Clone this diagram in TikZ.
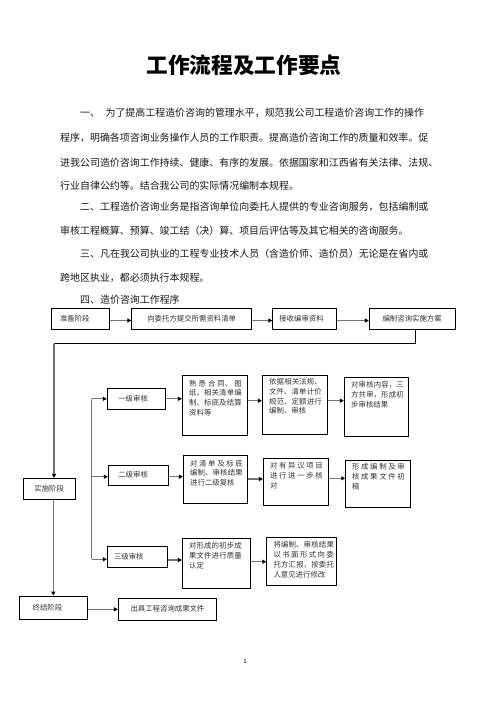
\documentclass[tikz,border=0pt]{standalone}
\usepackage{fontspec}
\setmainfont{Noto Sans CJK SC}
\usetikzlibrary{arrows.meta}
\XeTeXlinebreaklocale "zh"
\XeTeXlinebreakskip=0pt plus 3pt
\begin{document}
\begin{tikzpicture}[x=1pt,y=-1pt,
  box/.style={draw=black, line width=0.8pt, inner sep=0pt, rectangle},
  arr/.style={draw=black!55, line width=1.3pt, -{Triangle[length=4pt,width=4pt,color=black]}},
  gline/.style={draw=black!55, line width=1.3pt},
  bline/.style={draw=black, line width=0.8pt},
  para/.style={anchor=west, inner sep=0pt, font=\fontsize{9.95}{12}\selectfont, text=black!90},
  btxt/.style={font=\fontsize{7.4}{9.8}\selectfont, text=black!80},
  mtxt/.style={btxt, anchor=base west, inner sep=0pt, align=justify, text width=52.5pt}]
\useasboundingbox (0,0) rectangle (496,702);
\fill[white] (0,0) rectangle (496,702);

% title
\node[inner sep=0pt, font=\fontsize{21.7}{24}\selectfont\bfseries] (title) at (244,65) {工作流程及工作要点};

% paragraphs
\node[para] (l1) at (80,113.3) {一、\hspace{5.5pt}为了提高工程造价咨询的管理水平，规范我公司工程造价咨询工作的操作};
\node[para] (l2) at (60,138) {程序，明确各项咨询业务操作人员的工作职责。提高造价咨询工作的质量和效率。促};
\node[para] (l3) at (60,162.5) {进我公司造价咨询工作持续、健康、有序的发展。依据国家和江西省有关法律、法规、};
\node[para] (l4) at (60,186) {行业自律公约等。结合我公司的实际情况编制本规程。};
\node[para] (l5) at (80,207) {二、工程造价咨询业务是指咨询单位向委托人提供的专业咨询服务，包括编制或};
\node[para] (l6) at (60,231) {审核工程概算、预算、竣工结（决）算、项目后评估等及其它相关的咨询服务。};
\node[para] (l7) at (80,254) {三、凡在我公司执业的工程专业技术人员（含造价师、造价员）无论是在省内或};
\node[para] (l8) at (60,278.3) {跨地区执业，都必须执行本规程。};
\node[para] (l9) at (80,300) {四、造价咨询工作程序};

% top row
\node[box, btxt, minimum width=58.3pt, minimum height=21pt, inner xsep=9pt, text width=40.3pt, align=left] (zb) at (80.15,318.8) {准备阶段};
\node[box, btxt, minimum width=120pt, minimum height=21pt] (wt) at (191.7,318.8) {向委托方提交所需资料清单};
\node[box, btxt, minimum width=64pt, minimum height=21pt, inner xsep=6.6pt, text width=50.8pt, align=left] (js) at (304.7,318.8) {接收编审资料};
\node[box, btxt, minimum width=85.7pt, minimum height=21pt] (bz) at (412.15,318.8) {编制咨询实施方案};

% stages
\node[box, btxt, minimum width=51.7pt, minimum height=21pt] (ss) at (49.15,488.8) {实施阶段};
\node[box, btxt, minimum width=68pt, minimum height=23.3pt, inner xsep=13.4pt, text width=41.2pt, align=left] (zj) at (53.3,607.65) {终结阶段};
\node[box, btxt, minimum width=98.4pt, minimum height=21.7pt] (cj) at (167.5,609.15) {出具工程咨询成果文件};

% review levels
\node[box, btxt, minimum width=58.4pt, minimum height=21pt, inner xsep=11pt, text width=36.4pt, align=left] (yj) at (136.5,398.8) {一级审核};
\node[box, btxt, minimum width=60pt, minimum height=20pt, inner xsep=10pt, text width=40pt, align=left] (ej) at (138.3,475) {二级审核};
\node[box, btxt, minimum width=60pt, minimum height=20.6pt, inner xsep=6.7pt, text width=46.6pt, align=left] (sj) at (137.3,557) {三级审核};

% row boxes
\node[box, minimum width=65.4pt, minimum height=59.8pt] (p1) at (215,405.6) {};
\node[box, minimum width=65pt, minimum height=58.3pt] (p2) at (294.8,404.85) {};
\node[box, minimum width=64.4pt, minimum height=58.7pt] (p3) at (376.5,406.65) {};
\node[box, minimum width=64.4pt, minimum height=47.6pt] (q1) at (215.5,479.5) {};
\node[box, minimum width=65pt, minimum height=46.7pt] (q2) at (295.8,481.65) {};
\node[box, minimum width=65pt, minimum height=47.3pt] (q3) at (378.2,483.65) {};
\node[box, minimum width=68.4pt, minimum height=50pt] (s1) at (216.5,563.3) {};
\node[box, minimum width=70pt, minimum height=47.7pt] (s2) at (301.7,561.15) {};

% row texts
\node[mtxt] (tp1) at (189,386.1) {熟悉合同、图\linebreak 纸、相关清单编\linebreak 制、标底及结算\linebreak 资料等};
\node[mtxt] (tp2) at (269,384.5) {依据相关法规、\linebreak 文件、清单计价\linebreak 规范、定额进行\linebreak 编制、审核};
\node[mtxt] (tp3) at (351,387.8) {对审核内容，三\linebreak 方共审，形成初\linebreak 步审核结果};
\node[mtxt] (tq1) at (190,466.1) {对清单及标底\linebreak 编制、审核结果\linebreak 进行二级复核};
\node[mtxt] (tq2) at (270,468.8) {对有异议项目\linebreak 进行进一步核\linebreak 对};
\node[mtxt] (tq3) at (352,469.5) {形成编制及审\linebreak 核成果文件初\linebreak 稿};
\node[mtxt] (ts1) at (189,548.8) {对形成的初步成\linebreak 果文件进行质量\linebreak 认定};
\node[mtxt, text width=60.5pt] (ts2) at (273.3,547.8) {将编制、审核结果\linebreak 以书面形式向委\linebreak 托方汇报，按委托\linebreak 人意见进行修改};

% page number
\node[inner sep=0pt, font=\fontsize{6}{7}\selectfont] (pg) at (245,661) {1};

% helper coordinates
\coordinate (r0) at (0,320.5);
\coordinate (r1) at (0,400.7);
\coordinate (r2) at (0,479);
\coordinate (r2b) at (0,478.3);
\coordinate (r2a) at (0,476.7);
\coordinate (r3) at (0,560);
\coordinate (r3b) at (0,561.7);
\coordinate (r4) at (0,609.3);
\coordinate (c1) at (415,343.5);
\coordinate (c2) at (54,343.5);
\coordinate (c3) at (53.3,499.3);
\coordinate (br1) at (91.7,398.8);
\coordinate (br3) at (91.7,559.3);

% top row connectors
\draw[arr] (zb.east |- r0) -- (wt.west |- r0);
\draw[arr] (wt.east |- r0) -- (js.west |- r0);
\draw[arr] (js.east |- r0) -- (bz.west |- r0);
\draw[bline] (bz.south -| c1) -- (c1) -- (c2);
\draw[arr] (c2) -- (c2 |- ss.north);
\draw[arr] (c3) -- (c3 |- zj.north);
\draw[arr] (zj.east |- r4) -- (cj.west |- r4);

% branch
\draw[gline] (br1) -- (br3);
\draw[arr] (br1) -- (yj.west |- br1);
\draw[arr] (br1 |- r2a) -- (ej.west |- r2a);
\draw[arr] (br3) -- (sj.west |- br3);

% row connectors
\draw[arr] (yj.east) -- (yj.east -| p1.west);
\draw[arr] (p1.east |- r1) -- (p2.west |- r1);
\draw[arr] (p2.east |- r1) -- (p3.west |- r1);
\draw[arr] (ej.east |- r2a) -- (q1.west |- r2a);
\draw[arr] (q1.east |- r2) -- (q2.west |- r2);
\draw[arr] (q2.east |- r2b) -- (q3.west |- r2b);
\draw[arr] (sj.east |- r3) -- (s1.west |- r3);
\draw[arr] (s1.east |- r3b) -- (s2.west |- r3b);
\end{tikzpicture}
\end{document}
